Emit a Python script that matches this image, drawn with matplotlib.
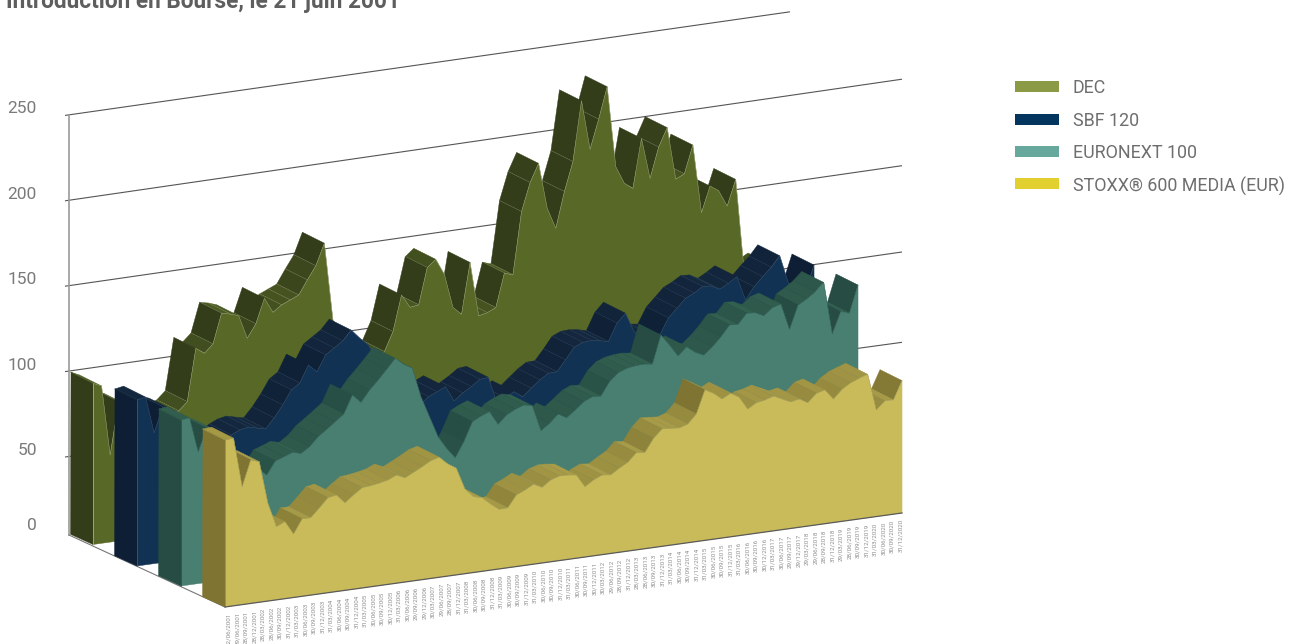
import numpy as np
import matplotlib
matplotlib.use("Agg")
import matplotlib.pyplot as plt
from matplotlib.patches import Polygon, Rectangle
from matplotlib.colors import to_rgb

dates = """22/06/2001 29/06/2001 28/09/2001 28/12/2001 28/03/2002 28/06/2002 30/09/2002 31/12/2002
31/03/2003 30/06/2003 30/09/2003 31/12/2003 31/03/2004 30/06/2004 30/09/2004 31/12/2004
31/03/2005 30/06/2005 30/09/2005 30/12/2005 31/03/2006 30/06/2006 29/09/2006 29/12/2006
30/03/2007 29/06/2007 28/09/2007 31/12/2007 31/03/2008 30/06/2008 30/09/2008 31/12/2008
31/03/2009 30/06/2009 30/09/2009 31/12/2009 31/03/2010 30/06/2010 30/09/2010 31/12/2010
31/03/2011 30/06/2011 30/09/2011 30/12/2011 30/03/2012 29/06/2012 28/09/2012 31/12/2012
28/03/2013 28/06/2013 30/09/2013 31/12/2013 31/03/2014 30/06/2014 30/09/2014 31/12/2014
31/03/2015 30/06/2015 30/09/2015 31/12/2015 31/03/2016 30/06/2016 30/09/2016 30/12/2016
31/03/2017 30/06/2017 29/09/2017 29/12/2017 29/03/2018 29/06/2018 28/09/2018 31/12/2018
29/03/2019 28/06/2019 30/09/2019 31/12/2019 31/03/2020 30/06/2020 30/09/2020 31/12/2020""".split()

dec = [98.4, 96.1, 55, 85.5, 82.9, 76.3, 72.7, 69.1, 71.3, 73.6, 75.2, 79.9, 110.5, 106.9, 111.6, 128.9,
       127.8, 126.1, 112.2, 119.9, 134.2, 125.3, 128.9, 131.1, 133.3, 141.4, 149, 161.6, 115.9, 106.5, 97, 90.4,
       86.8, 89, 93.2, 104.2, 125, 117.1, 117.8, 138.9, 143.1, 133.6, 113.6, 108.8, 138.5, 106.5, 107.7, 109.9,
       129.4, 127.7, 164, 180.3, 190.9, 163.9, 151.5, 172.2, 189.1, 224.1, 195, 211.8, 230.2, 182.7, 172.3, 168.6,
       197.2, 173.1, 190.6, 201.4, 170.5, 172.9, 189.1, 148.8, 163.7, 160.3, 150.6, 165.5, 109.9, 115.8, 110.4, 113.2]
sbf = [101.2, 102.2, 80.5, 95, 93, 88, 80, 74, 71, 73, 70, 73, 75.3, 76.3, 75, 73.8,
       79.5, 86.4, 94.5, 97.9, 107.7, 103.1, 112.2, 115.6, 119, 124.7, 119.3, 114.6, 105.1, 95.6, 83.2, 74.9,
       70.1, 75.3, 79.4, 81.6, 83.9, 74.8, 78.8, 81.8, 85.4, 85.9, 70, 72.4, 75.4, 71.7, 76, 80.2,
       83.4, 83.6, 89.8, 96.5, 98.7, 99, 98.3, 97, 107.1, 112.3, 100.8, 96.4, 97.4, 96.7, 106, 111,
       116.1, 118.5, 121.6, 121.3, 118.6, 121.4, 124.6, 110.3, 117.3, 122.5, 127.3, 133.4, 116.8, 112, 110.1, 125.2]
euronext = [101.2, 101.8, 81.2, 94.2, 92.5, 86, 76.5, 70, 66.4, 66.6, 62, 69.5, 71.3, 73.2, 71.9, 75.1,
            80.3, 83.9, 87.7, 91.5, 101.9, 96.9, 103.4, 108.6, 114.1, 119.9, 115.7, 112.7, 95.3, 82.9, 70.5, 63,
            56.8, 65.5, 76.5, 79.1, 81, 72.9, 77.7, 80.3, 82.1, 81, 65.7, 69.3, 74, 71.2, 75, 79.2,
            81.4, 81.1, 88.8, 93.3, 95.2, 96, 96.3, 95.6, 112, 105.4, 98.3, 103, 99, 96.7, 100.9, 106,
            112.2, 111.9, 117.7, 117.3, 114.9, 118.9, 120.3, 104.8, 118.3, 121.2, 124.7, 129.5, 98.6, 111, 109.3, 125.2]
stoxx = [101.8, 102.2, 73, 88, 86.3, 61.4, 46.9, 49.1, 41.2, 49.3, 49.3, 54.3, 59.6, 60.5, 55.3, 59.2,
         62.7, 63.2, 64, 65.1, 67.3, 65, 67.5, 70.1, 72.9, 74.3, 69.6, 66.4, 53.6, 48.4, 47.1, 42.7,
         38.9, 39.1, 45.9, 48.1, 50.8, 48.3, 51.9, 53.5, 53.4, 52.7, 45.2, 48.4, 50.6, 50, 53.2, 56,
         60.9, 60.4, 67.9, 72.7, 72.4, 71.9, 73.5, 78.7, 92.1, 89.4, 85.4, 88, 85, 77.4, 80.4, 81.3,
         82.9, 80.5, 78.1, 79.1, 76.2, 81, 82.3, 76.3, 81.3, 84.4, 86.3, 88, 66.4, 71, 70.9, 81.5]

names = ["DEC", "SBF 120", "EURONEXT 100", "STOXX® 600 MEDIA (EUR)"]
series = [dec, sbf, euronext, stoxx]
yticks = [0, 50, 100, 150, 200, 250]
ytick_pos = [5.8, 50, 100, 150, 200, 250]

# colours: front, steep top/side, flat top, hairline
legend_cols = ["#8A9A45", "#04355F", "#66A99C", "#E1D030"]
front_cols = ["#586826", "#123253", "#487F71", "#C9BB5A"]
steep_cols = ["#333D1A", "#0E1F35", "#264C44", "#7F7432"]
flat_cols = ["#4B5A22", "#14283F", "#32604F", "#A89C48"]
hair_cols = ["#B8BEA0", "#4A5F78", "#2A5048", "#8C8A58"]

# projection set-up (pixel canvas)
origins = [(93, 544.5), (137, 566), (181, 586), (225, 607)]
DX, SK, KV, FLOOR = 8.57, -1.19, 1.708, 4.0
BACK = (-22.0, -11.0)
BACK_BASE = (-22.5, -10.2)
WALL = (69.0, 535.0)
WALL_SLOPES = [-0.137, -0.1429, -0.144, -0.1453, -0.1429]
GRID_END = [902, 902, 902, 902, 790]

plt.rcParams["font.family"] = ["Roboto", "DejaVu Sans"]

fig = plt.figure(figsize=(13, 6.44), dpi=100)
ax = fig.add_axes([0, 0, 1, 1])
ax.set_xlim(0, 1300)
ax.set_ylim(644, 0)
ax.axis("off")


def proj(k, i, v, back=False):
    ox, oy = origins[k]
    x = ox + DX * i
    y = oy + SK * i - KV * (v - FLOOR)
    if back:
        x += BACK[0]
        y += BACK[1]
    return x, y


def mix(a, b, t):
    a, b = np.array(to_rgb(a)), np.array(to_rgb(b))
    return tuple(a + (b - a) * t)


# back wall
wall_y = lambda v: WALL[1] - KV * (v - FLOOR)
for v, xe, sl in zip(yticks[1:], GRID_END, WALL_SLOPES):
    y0 = wall_y(v)
    ax.plot([WALL[0] - 4, xe], [y0 + 0.6, y0 + sl * (xe - WALL[0])],
            color="#555555", lw=0.8, zorder=1, solid_capstyle="butt")
ax.plot([WALL[0], WALL[0]], [wall_y(250), WALL[1]], color="#9A9A9A", lw=1.2, zorder=1)
for t, p in zip(yticks, ytick_pos):
    ax.text(37, wall_y(p) - 6, str(t), ha="right", va="center", fontsize=12.5,
            color="#7A7A7A")

# floor outline
ax.plot([WALL[0], origins[3][0]], [WALL[1], origins[3][1]], color="#777777", lw=0.8, zorder=1)

z = 2
for k, vals in enumerate(series):
    n = len(vals)
    for i in range(n - 2, -1, -1):
        a = proj(k, i, vals[i])
        b = proj(k, i + 1, vals[i + 1])
        ab = proj(k, i, vals[i], back=True)
        bb = proj(k, i + 1, vals[i + 1], back=True)
        ex, ey = b[0] - a[0], b[1] - a[1]
        cross = BACK[0] * ey - BACK[1] * ex
        if cross <= 0:
            continue
        t = np.clip(-ey / 22.0, 0, 1)
        col = mix(flat_cols[k], steep_cols[k], t)
        ax.add_patch(Polygon([a, b, bb, ab], closed=True, fc=col, ec=col, lw=0.3, zorder=z))
        z += 1
        ax.plot([a[0], ab[0]], [a[1], ab[1]], color=hair_cols[k], lw=0.5, zorder=z)
        z += 1
    # front face
    tops = [proj(k, i, vals[i]) for i in range(n)]
    base = [(origins[k][0] + DX * (n - 1), origins[k][1] + SK * (n - 1)), origins[k]]
    ax.add_patch(Polygon(tops + base, closed=True, fc=front_cols[k], ec=front_cols[k], lw=0.3, zorder=z))
    z += 1
    ax.plot([p[0] for p in tops], [p[1] for p in tops], color=hair_cols[k], lw=0.35, alpha=0.7, zorder=z)
    z += 1
    # left side
    o = origins[k]
    t0 = tops[0]
    side = [t0, (t0[0] + BACK[0], t0[1] + BACK[1]),
            (o[0] + BACK_BASE[0], o[1] + BACK_BASE[1]), o]
    ax.add_patch(Polygon(side, closed=True, fc=steep_cols[k], ec=steep_cols[k], lw=0.3, zorder=z))
    z += 1
    ax.plot([t0[0], o[0]], [t0[1], o[1]], color=hair_cols[k], lw=0.5, zorder=z)
    z += 1
    ax.plot([t0[0], t0[0] + BACK[0]], [t0[1], t0[1] + BACK[1]], color=flat_cols[k], lw=0.5, zorder=z)
    z += 1

# front base line
o = origins[3]
ax.plot([o[0], o[0] + DX * 79], [o[1], o[1] + SK * 79], color="#5A5A5A", lw=0.9, zorder=z)

# date labels
for i, d in enumerate(dates):
    ax.text(229 + 8.5 * i, 613 + SK * i, d, rotation=90, ha="center", va="top",
            fontsize=4.5, color="#8E8E8E")

# legend
leg_y = [86.5, 119.5, 151.5, 183.5]
txt_y = [88, 120.5, 152.5, 186]
for c, nm, ly, ty in zip(legend_cols, names, leg_y, txt_y):
    ax.add_patch(Rectangle((1015, ly - 5.5), 44, 11, fc=c, ec="none"))
    ax.text(1073, ty, nm, ha="left", va="center", fontsize=12.9, color="#6E6E6E")

# title, cropped by the top of the picture as in the source
ax.text(6, 7.5, "Introduction en Bourse, le 21 juin 2001", ha="left", va="baseline",
        fontsize=16.3, fontweight="bold", color="#5E5E5E")

fig.savefig("out.png", dpi=100)
